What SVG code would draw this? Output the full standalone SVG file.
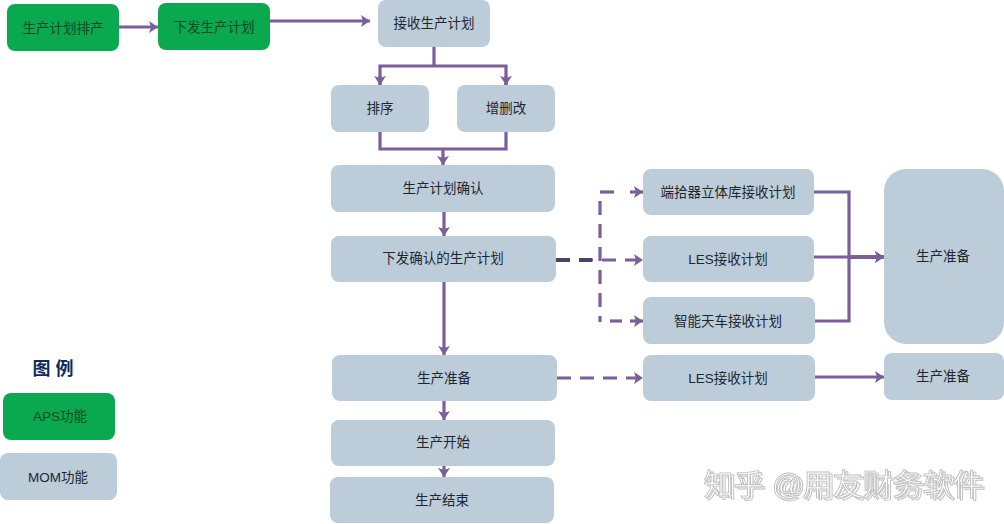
<svg xmlns="http://www.w3.org/2000/svg" width="1004" height="524" viewBox="0 0 1004 524">
<defs>
<marker id="arr" markerUnits="userSpaceOnUse" markerWidth="10" markerHeight="12" refX="9" refY="6" orient="auto"><path d="M0 0L9 6L0 12L2 6Z" fill="#7b5f9b"/></marker>
<filter id="ghost" x="-5%" y="-20%" width="110%" height="140%"><feOffset in="SourceGraphic" dx="3" dy="2" result="o"/><feMerge><feMergeNode in="o"/><feMergeNode in="SourceGraphic"/></feMerge></filter>
</defs>
<style>
text{font-family:"Liberation Sans","Noto Sans CJK SC",sans-serif;font-size:13.5px;text-anchor:middle;fill:#1d2730}
.g rect{fill:#0aa84f}
.g text{fill:#0c4a24}
.m rect{fill:#bdccd9}
.c path{fill:none;stroke:#7b5f9b;stroke-width:3.2}
.d{stroke-dasharray:14 9}
.w{font-size:30px;fill:#fff;stroke:#bdbdbd;stroke-width:.9}
</style>
<g id="connectors" class="c">
<path d="M119 27H158" marker-end="url(#arr)"/>
<path d="M270 21H370" marker-end="url(#arr)"/>
<path d="M434 47V66"/>
<path d="M380 85V66H506V85"/>
<path d="M380 76V85" marker-end="url(#arr)"/>
<path d="M506 76V85" marker-end="url(#arr)"/>
<path d="M380 132V149H506V132"/>
<path d="M443 149V165" marker-end="url(#arr)"/>
<path d="M444 212V236" marker-end="url(#arr)"/>
<path d="M444 282V355" marker-end="url(#arr)"/>
<path d="M444 401V420" marker-end="url(#arr)"/>
<path d="M444 466V477" marker-end="url(#arr)"/>
<path class="d" d="M556 260H643" marker-end="url(#arr)"/>
<path class="d" d="M556 260H592" style="stroke:#4f3f6b;stroke-width:4"/>
<path class="d" d="M600 192H623" />
<path d="M630 192H643" marker-end="url(#arr)"/>
<path class="d" d="M600 201V322"/>
<path d="M610 321H622" />
<path d="M630 321H643" marker-end="url(#arr)"/>
<path class="d" d="M557 378H643" marker-end="url(#arr)"/>
<path d="M814 192H849V321H815"/>
<path d="M814 257H884" marker-end="url(#arr)"/>
<path d="M849 257H884" style="stroke-width:4" marker-end="url(#arr)"/>
<path d="M815 377H884" marker-end="url(#arr)"/>
</g>
<g id="n1" class="g"><rect x="7" y="4" width="112" height="47" rx="8"/><text x="63" y="33">生产计划排产</text></g>
<g id="n2" class="g"><rect x="158" y="3" width="112" height="47" rx="8"/><text x="214" y="32">下发生产计划</text></g>
<g id="n3" class="m"><rect x="378" y="0" width="112" height="47" rx="8"/><text x="434" y="28">接收生产计划</text></g>
<g id="n4" class="m"><rect x="331" y="85" width="98" height="47" rx="8"/><text x="380" y="113">排序</text></g>
<g id="n5" class="m"><rect x="457" y="85" width="98" height="47" rx="8"/><text x="506" y="113">增删改</text></g>
<g id="n6" class="m"><rect x="331" y="165" width="224" height="47" rx="8"/><text x="443" y="193">生产计划确认</text></g>
<g id="n7" class="m"><rect x="331" y="236" width="225" height="46" rx="8"/><text x="443" y="263">下发确认的生产计划</text></g>
<g id="n8" class="m"><rect x="332" y="355" width="225" height="46" rx="8"/><text x="444" y="383">生产准备</text></g>
<g id="n9" class="m"><rect x="331" y="420" width="224" height="46" rx="8"/><text x="443" y="447">生产开始</text></g>
<g id="n10" class="m"><rect x="330" y="477" width="224" height="46" rx="8"/><text x="442" y="505">生产结束</text></g>
<g id="n11" class="m"><rect x="643" y="169" width="171" height="46" rx="8"/><text x="728" y="197">端拾器立体库接收计划</text></g>
<g id="n12" class="m"><rect x="643" y="236" width="171" height="46" rx="8"/><text x="728" y="264">LES接收计划</text></g>
<g id="n13" class="m"><rect x="643" y="297" width="172" height="47" rx="8"/><text x="728" y="326">智能天车接收计划</text></g>
<g id="n14" class="m"><rect x="643" y="355" width="172" height="46" rx="8"/><text x="728" y="383">LES接收计划</text></g>
<g id="n15" class="m"><rect x="884" y="169" width="120" height="175" rx="22"/><text x="943" y="261">生产准备</text></g>
<g id="n16" class="m"><rect x="884" y="353" width="120" height="47" rx="8"/><text x="943" y="381">生产准备</text></g>
<g id="legend">
<text x="53" y="375" style="font-size:18px;font-weight:bold;fill:#10295e">图 例</text>
<g id="lg1" class="g"><rect x="3" y="393" width="112" height="47" rx="8"/><text x="60" y="421">APS功能</text></g>
<g id="lg2" class="m"><rect x="0" y="453" width="117" height="47" rx="8"/><text x="58" y="482">MOM功能</text></g>
</g>
<g id="watermark">
<text class="w" x="843" y="495" filter="url(#ghost)">知乎 @用友财务软件</text>
</g>
</svg>
